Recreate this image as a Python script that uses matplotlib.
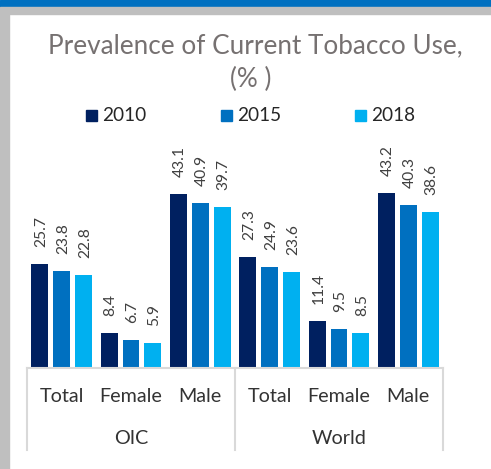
import matplotlib
matplotlib.use('Agg')
import matplotlib.pyplot as plt
import numpy as np
from matplotlib.patches import Rectangle
from matplotlib.lines import Line2D

plt.rcParams['font.family'] = ['Lato', 'DejaVu Sans']

title_lines = ['Prevalence of Current Tobacco Use,', '(% )']
groups = ['OIC', 'World']
categories = ['Total', 'Female', 'Male', 'Total', 'Female', 'Male']
years = ['2010', '2015', '2018']
v2010 = [25.7, 8.4, 43.1, 27.3, 11.4, 43.2]
v2015 = [23.8, 6.7, 40.9, 24.9, 9.5, 40.3]
v2018 = [22.8, 5.9, 39.7, 23.6, 8.5, 38.6]
series = [v2010, v2015, v2018]
colors = ['#002060', '#0070C0', '#00B0F0']

W, H = 491, 469
fig = plt.figure(figsize=(W / 100, H / 100), dpi=100)


def fx(px):
    return px / W


def fy(py):
    return 1 - py / H


# decorative frame
fig.patches.append(Rectangle((0, fy(7)), 1, 7 / H, transform=fig.transFigure,
                             color='#0070C0', zorder=0))
fig.patches.append(Rectangle((0, fy(14)), 1, 7 / H, transform=fig.transFigure,
                             color='#BFBFBF', zorder=0))
fig.patches.append(Rectangle((0, 0), 9 / W, fy(14), transform=fig.transFigure,
                             color='#BFBFBF', zorder=0))

# axes
ax_l, ax_r, ax_b, ax_t = 27, 443, 367, 150
ax = fig.add_axes([fx(ax_l), fy(ax_b), (ax_r - ax_l) / W, (ax_b - ax_t) / H])
ax.set_xlim(-0.5, len(categories) - 0.5)
ax.set_ylim(0, (ax_b - ax_t) / 4.02)
ax.axis('off')

renderer = fig.canvas.get_renderer()


def scale_to(t, target, use_height=False):
    bb = t.get_window_extent(renderer)
    cur = bb.height if use_height else bb.width
    t.set_fontsize(t.get_fontsize() * target / cur)
    return t.get_fontsize()


x = np.arange(len(categories))
step = 0.317
width = 0.245
label_color = '#404040'
# data label size calibration
probe = ax.text(0, 0, '25.7', rotation=90, fontsize=11)
lab_fs = scale_to(probe, 31, use_height=True)
probe.remove()

for i, (vals, c) in enumerate(zip(series, colors)):
    xs = x + (i - 1) * step
    ax.bar(xs, vals, width=width, color=c, label=years[i], zorder=2)
    for xi, v in zip(xs, vals):
        ax.annotate(f'{v:.1f}', (xi, v), xytext=(1.5, 17), textcoords='offset pixels',
                    rotation=90, ha='center', va='bottom', fontsize=lab_fs,
                    color=label_color, rotation_mode='default')

# baseline + separators
line_col = '#D9D9D9'
fig.add_artist(Line2D([fx(ax_l), fx(ax_r)], [fy(368), fy(368)], color=line_col, lw=1.5))
data_to_fig = lambda xv: fig.transFigure.inverted().transform(ax.transData.transform((xv, 0)))[0]
for xv in [-0.5, 2.5, 5.5]:
    xf = data_to_fig(xv)
    fig.add_artist(Line2D([xf, xf], [fy(368), fy(450)], color=line_col, lw=1.5))

# category labels
tick_color = '#333333'
probe = fig.text(0, 0, 'Female', fontsize=12)
tick_fs = scale_to(probe, 63)
probe.remove()
for xi, cat in zip(x, categories):
    fig.text(data_to_fig(xi), fy(402), cat, ha='center', va='baseline',
             fontsize=tick_fs, color=tick_color)
for gi, g in enumerate(groups):
    xf = data_to_fig(gi * 3 + 1)
    fig.text(xf, fy(444), g, ha='center', va='baseline', fontsize=tick_fs, color=tick_color)

# title
title_color = '#767171'
t1 = fig.text(fx(255), fy(53), title_lines[0], ha='center', va='baseline',
              fontsize=16, color=title_color)
tfs = scale_to(t1, 416)
fig.text(fx(251), fy(87), title_lines[1], ha='center', va='baseline',
         fontsize=tfs, color=title_color)

# legend
probe = fig.text(0, 0, '2010', fontsize=12)
leg_fs = scale_to(probe, 44)
probe.remove()
leg_sq_x = [86, 221, 355]
for sx, yr, c in zip(leg_sq_x, years, colors):
    fig.patches.append(Rectangle((fx(sx), fy(121)), 11 / W, 11 / H,
                                 transform=fig.transFigure, color=c))
    fig.text(fx(sx + 16), fy(121), yr, ha='left', va='baseline', fontsize=leg_fs,
             color='#262626')

fig.savefig('out.png', dpi=100, facecolor='white')
